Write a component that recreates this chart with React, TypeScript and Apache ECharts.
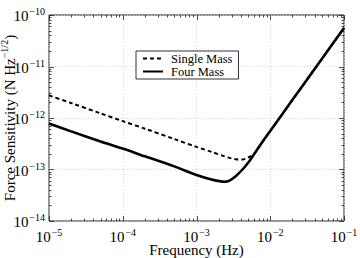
import React, { useEffect, useRef } from "react";
import * as echarts from "echarts";

const frequency = [1e-5, 2e-5, 5e-5, 1e-4, 2e-4, 5e-4, 1e-3, 1.6e-3, 2.4e-3, 2.8e-3, 3.4e-3, 4.2e-3, 5.2e-3, 6e-3, 7.1e-3, 1e-2, 2e-2, 5e-2, 1e-1];
const fourMass = [7.8e-13, 5.5e-13, 3.5e-13, 2.55e-13, 1.8e-13, 1.15e-13, 7.8e-14, 6.4e-14, 5.8e-14, 6.1e-14, 7.4e-14, 1.0e-13, 1.45e-13, 1.95e-13, 2.8e-13, 5.6e-13, 2.25e-12, 1.4e-11, 5.6e-11];
const singleMass = [2.75e-12, 1.95e-12, 1.23e-12, 8.7e-13, 6.2e-13, 3.9e-13, 2.75e-13, 2.2e-13, 1.8e-13, 1.68e-13, 1.58e-13, 1.56e-13, 1.75e-13, 2.0e-13, 2.8e-13, 5.6e-13, 2.25e-12, 1.4e-11, 5.6e-11];

const xDecades = [1e-5, 1e-4, 1e-3, 1e-2, 1e-1];
const yDecades = [1e-14, 1e-13, 1e-12, 1e-11, 1e-10];
const minorSteps = [2, 3, 4, 5, 6, 7, 8, 9];

const FONT = "'Liberation Serif', 'Times New Roman', serif";

function fmt(v: number) {
  const e = Math.round(Math.log10(v));
  return `{b|10}{e|\u2212${-e}}`;
}

const richLabel = {
  b: { fontSize: 15, fontFamily: FONT, color: "#000", lineHeight: 17, verticalAlign: "bottom" },
  e: { fontSize: 10, fontFamily: FONT, color: "#000", lineHeight: 17, verticalAlign: "top", padding: [0, 0, 0, 1] },
};

export default function App() {
  const ref = useRef<HTMLDivElement>(null);
  useEffect(() => {
    if (!ref.current) return;
    const chart = echarts.init(ref.current, undefined, { renderer: "svg" });

    const xTickData: number[][] = [];
    xDecades.forEach((d, i) => {
      xTickData.push([d, 1e-14, 5]);
      if (i < xDecades.length - 1) minorSteps.forEach((m) => xTickData.push([d * m, 1e-14, 2.5]));
    });
    const yTickData: number[][] = [];
    yDecades.forEach((d, i) => {
      yTickData.push([1e-5, d, 5]);
      if (i < yDecades.length - 1) minorSteps.forEach((m) => yTickData.push([1e-5, d * m, 2.5]));
    });

    const tickStyle = { stroke: "#222", lineWidth: 0.8 };

    chart.setOption({
      animation: false,
      textStyle: { fontFamily: FONT },
      grid: { left: 49, right: 16, top: 15, bottom: 37, show: true, borderColor: "#222", borderWidth: 1, containLabel: false, outerBoundsMode: "none" },
      legend: {
        data: ["Single Mass", "Four Mass"],
        orient: "vertical",
        left: 136,
        top: 51,
        itemWidth: 20,
        itemHeight: 8,
        itemGap: 0,
        padding: [1, 6, 1, 6],
        borderColor: "#333",
        borderWidth: 1,
        backgroundColor: "#fff",
        itemStyle: { opacity: 0 },
        formatter: (name: string) => `{t|${name}}`,
        textStyle: {
          fontFamily: FONT,
          fontSize: 12,
          lineHeight: 13,
          color: "#000",
          padding: [0, 0, 0, 3],
          rich: { t: { fontFamily: FONT, fontSize: 12.5, lineHeight: 13, color: "#000" } },
        },
      },
      xAxis: {
        type: "log",
        logBase: 10,
        min: 1e-5,
        max: 1e-1,
        name: "{t|Frequency (Hz)}",
        nameLocation: "middle",
        nameGap: 21,
        nameMoveOverlap: false,
        nameTextStyle: {
          fontFamily: FONT,
          fontSize: 15,
          color: "#000",
          rich: { t: { fontFamily: FONT, fontSize: 15, color: "#000" } },
        },
        axisLine: { show: false },
        axisTick: { show: false },
        axisLabel: { formatter: fmt, rich: richLabel, margin: 6 },
        splitLine: { show: true, lineStyle: { color: "#ccc", type: [1, 2], width: 0.8 } },
      },
      yAxis: {
        type: "log",
        logBase: 10,
        min: 1e-14,
        max: 1e-10,
        name: "{a|Force Sensitivity (N Hz}{s|\u22121/2}{a|)}",
        nameLocation: "middle",
        nameGap: 32,
        nameMoveOverlap: false,
        nameTextStyle: {
          color: "#000",
          fontFamily: FONT,
          fontSize: 15,
          rich: {
            a: { fontFamily: FONT, fontSize: 15, color: "#000", lineHeight: 18, verticalAlign: "bottom" },
            s: { fontFamily: FONT, fontSize: 10, color: "#000", lineHeight: 18, verticalAlign: "top" },
          },
        },
        axisLine: { show: false },
        axisTick: { show: false },
        axisLabel: { formatter: fmt, rich: richLabel, margin: 4 },
        splitLine: { show: true, lineStyle: { color: "#ccc", type: [1, 2], width: 0.8 } },
      },
      series: [
        {
          type: "custom",
          silent: true,
          renderItem: (params: any, api: any) => {
            const cs = params.coordSys;
            const p = api.coord([api.value(0), api.value(1)]);
            const len = api.value(2);
            const x = Math.round(p[0]) + 0.5;
            return {
              type: "group",
              children: [
                { type: "line", shape: { x1: x, y1: cs.y + cs.height, x2: x, y2: cs.y + cs.height - len }, style: tickStyle },
                { type: "line", shape: { x1: x, y1: cs.y, x2: x, y2: cs.y + len }, style: tickStyle },
              ],
            };
          },
          data: xTickData,
          z: 1,
        },
        {
          type: "custom",
          silent: true,
          renderItem: (params: any, api: any) => {
            const cs = params.coordSys;
            const p = api.coord([api.value(0), api.value(1)]);
            const len = api.value(2);
            const y = Math.round(p[1]) + 0.5;
            return {
              type: "group",
              children: [
                { type: "line", shape: { x1: cs.x, y1: y, x2: cs.x + len, y2: y }, style: tickStyle },
                { type: "line", shape: { x1: cs.x + cs.width, y1: y, x2: cs.x + cs.width - len, y2: y }, style: tickStyle },
              ],
            };
          },
          data: yTickData,
          z: 1,
        },
        {
          name: "Single Mass",
          type: "line",
          data: frequency.map((f, i) => [f, singleMass[i]]),
          showSymbol: false,
          symbol: "none",
          smooth: 0.3,
          lineStyle: { color: "#000", width: 2, type: [4, 3] },
          itemStyle: { color: "#000" },
          z: 2,
        },
        {
          name: "Four Mass",
          type: "line",
          data: frequency.map((f, i) => [f, fourMass[i]]),
          showSymbol: false,
          symbol: "none",
          smooth: 0.3,
          lineStyle: { color: "#000", width: 2.6 },
          itemStyle: { color: "#000" },
          z: 3,
        },
      ],
    });
    return () => chart.dispose();
  }, []);
  return <div ref={ref} style={{ width: 360, height: 258, position: "absolute", left: 0, top: 0 }} />;
}
